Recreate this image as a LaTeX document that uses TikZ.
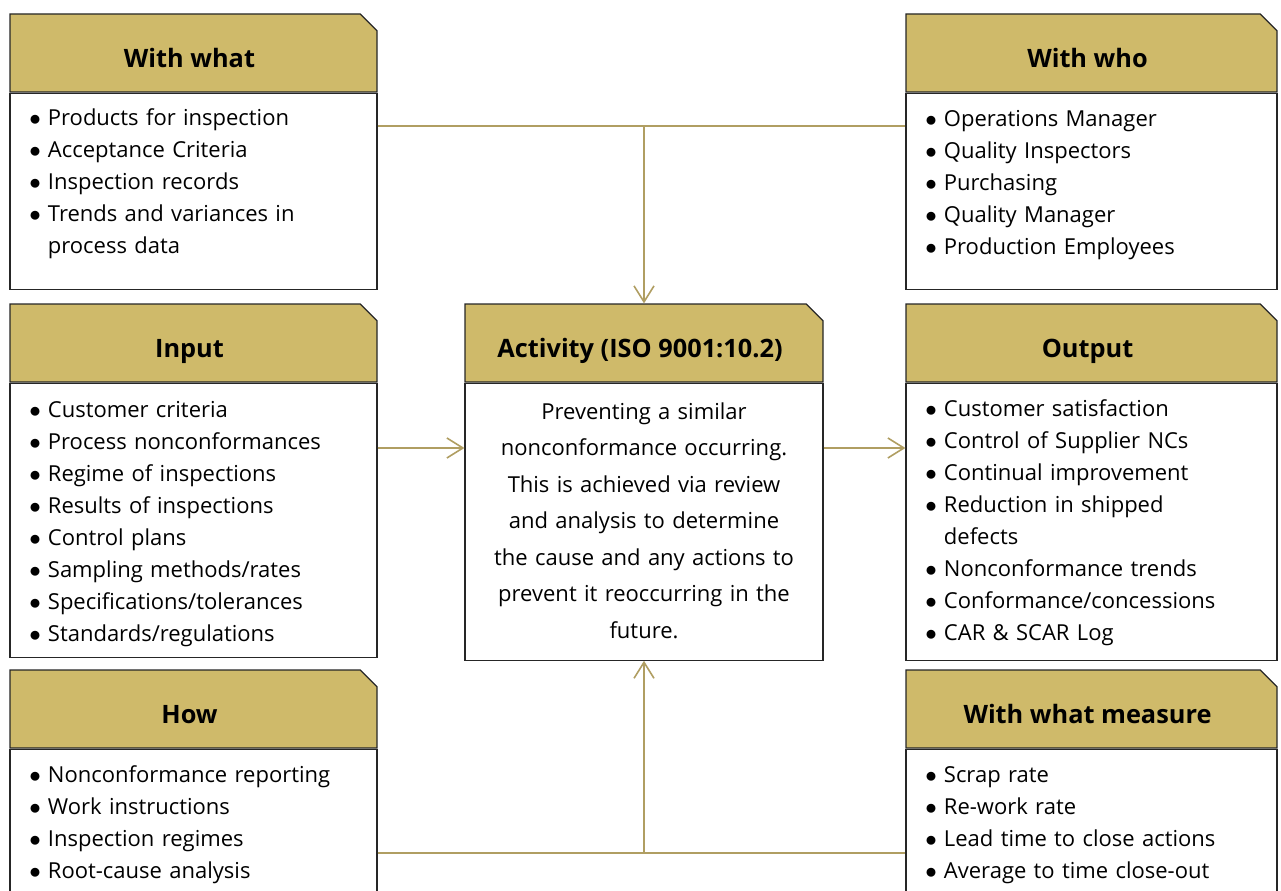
\documentclass[tikz,border=0pt]{standalone}
\usepackage{fontspec}
\setmainfont{Open Sans}
\usetikzlibrary{shapes.misc,arrows.meta}
\definecolor{headgold}{HTML}{CFBA6A}
\definecolor{linkgold}{HTML}{B09E62}
\newcommand{\itm}[1]{\hangindent=14pt\hangafter=1\noindent\makebox[14pt][l]{$\bullet$}#1\par}

\begin{document}
\begin{tikzpicture}[x=0.75pt,y=-0.75pt,
	box/.style={chamfered rectangle,chamfered rectangle corners=north east,chamfered rectangle xsep=9pt,chamfered rectangle angle=45,draw=black!85,line width=0.9pt,inner sep=0pt},
	head/.style={box,fill=headgold,minimum height=58.5pt,font=\fontsize{19}{24}\selectfont\bfseries,text height=22pt,text depth=0pt},
	body/.style={box,fill=white},
	lst/.style={anchor=base west,text width=255pt,inner sep=0pt,font=\fontsize{16.5}{24}\selectfont},
	link/.style={draw=linkgold,line width=1.2pt},
	arr/.style={link,-{Straight Barb[length=12pt,width=15pt]}}]
	\useasboundingbox (0,0) rectangle (1281,891);
	\foreach \n/\x/\w/\y/\h/\t in {what/193.5/367/53/196/With what,who/1091.5/371/53/196/With who,in/193.5/367/343/274/Input,out/1091.5/371/343/277/Output,how/193.5/367/709/160/How,meas/1091.5/371/709/160/With what measure}{
		\node[head,minimum width=\w*0.75pt] (\n-head) at (\x,\y) {\t\kern6pt};
		\node[body,minimum width=\w*0.75pt,minimum height=\h*0.75pt,anchor=north] (\n-body) at (\n-head.south) {};
	}
	\node[head,minimum width=358*0.75pt] (act-head) at (644,343) {Activity (ISO 9001:10.2)\kern6pt};
	\node[body,minimum width=358*0.75pt,minimum height=277*0.75pt,anchor=north] (act-body) at (act-head.south) {};
	\node[lst] (what-text) at (29,126) {\itm{Products for inspection}\itm{Acceptance Criteria}\itm{Inspection records}\itm{Trends and variances in\newline process data}};
	\node[lst] (who-text) at (925,127) {\itm{Operations Manager}\itm{Quality Inspectors}\itm{Purchasing}\itm{Quality Manager}\itm{Production Employees}};
	\node[lst] (in-text) at (29,417) {\itm{Customer criteria}\itm{Process nonconformances}\itm{Regime of inspections}\itm{Results of inspections}\itm{Control plans}\itm{Sampling methods/rates}\itm{Specifications/tolerances}\itm{Standards/regulations}};
	\node[lst] (out-text) at (925,416) {\itm{Customer satisfaction}\itm{Control of Supplier NCs}\itm{Continual improvement}\itm{Reduction in shipped\newline defects}\itm{Nonconformance trends}\itm{Conformance/concessions}\itm{CAR \& SCAR Log}};
	\node[lst] (how-text) at (29,782) {\itm{Nonconformance reporting}\itm{Work instructions}\itm{Inspection regimes}\itm{Root-cause analysis}};
	\node[lst] (meas-text) at (925,782) {\itm{Scrap rate}\itm{Re-work rate}\itm{Lead time to close actions}\itm{Average to time close-out}};
	\node[anchor=base,text width=255pt,align=center,inner sep=0pt,font=\fontsize{16.5}{27.4}\selectfont] (act-text) at (644,419) {Preventing a similar\\ nonconformance occurring.\\ This is achieved via review\\ and analysis to determine\\ the cause and any actions to\\ prevent it reoccurring in the\\ future.};
	\coordinate (top-join) at (644,126);
	\coordinate (mid-row) at (644,448);
	\coordinate (bot-join) at (644,853);
	\draw[link] (what-body.east |- top-join) -- (who-body.west |- top-join);
	\draw[arr] (top-join) -- (act-head.north);
	\draw[arr] (in-body.east |- mid-row) -- (act-body.west |- mid-row);
	\draw[arr] (act-body.east |- mid-row) -- (out-body.west |- mid-row);
	\draw[link] (how-body.east |- bot-join) -- (meas-body.west |- bot-join);
	\draw[arr] (bot-join) -- (act-body.south);
\end{tikzpicture}
\end{document}
